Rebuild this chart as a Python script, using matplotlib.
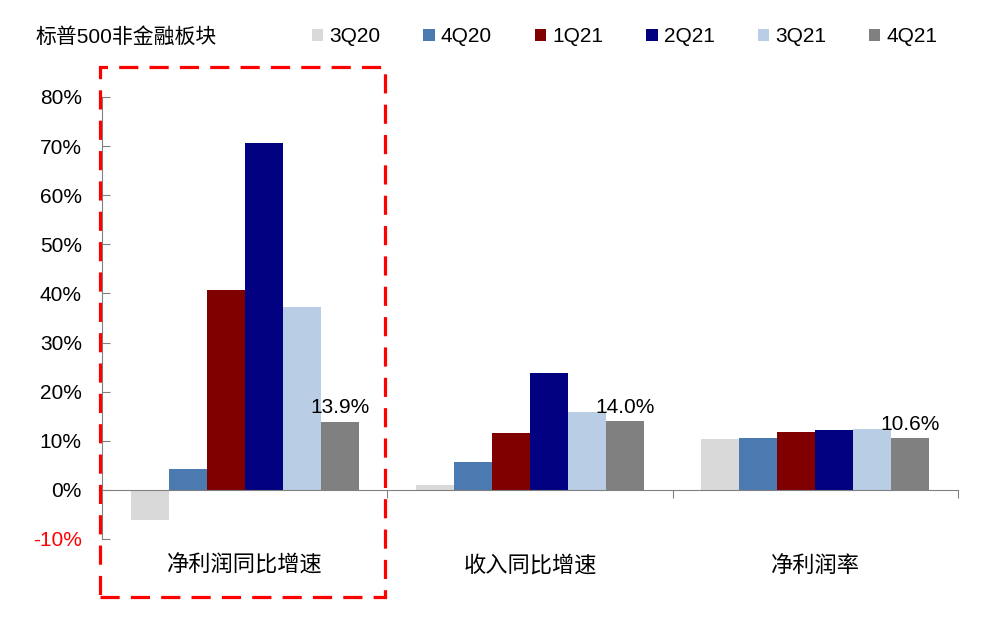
import matplotlib.pyplot as plt
import numpy as np
from matplotlib.patches import Rectangle
from matplotlib.transforms import blended_transform_factory

plt.rcParams['font.family'] = ['Liberation Sans', 'Noto Sans CJK SC', 'DejaVu Sans']

categories = ["净利润同比增速", "收入同比增速", "净利润率"]
quarters = ["3Q20", "4Q20", "1Q21", "2Q21", "3Q21", "4Q21"]
colors = ["#D9D9D9", "#4A7AB0", "#800000", "#000080", "#B9CDE5", "#808080"]
# one list per quarter: [净利润同比, 收入同比, 净利润率]
q3_20 = [-6.1, 1.0, 10.4]
q4_20 = [4.3, 5.7, 10.6]
q1_21 = [40.6, 11.6, 11.8]
q2_21 = [70.7, 23.8, 12.2]
q3_21 = [37.2, 15.9, 12.4]
q4_21 = [13.9, 14.0, 10.6]
series = [q3_20, q4_20, q1_21, q2_21, q3_21, q4_21]
yticks = [-10, 0, 10, 20, 30, 40, 50, 60, 70, 80]

fig = plt.figure(figsize=(9.87, 6.17), dpi=100)
ax = fig.add_axes([102/987, 1-539/617, 856/987, 442/617])

x = np.arange(len(categories))
w = 0.8 / len(quarters)
bars = []
for k, (vals, c, q) in enumerate(zip(series, colors, quarters)):
    b = ax.bar(x - 0.4 + w*(k+0.5), vals, w, color=c, label=q, zorder=2)
    bars.append(b)

# data labels on last quarter
for i, v in enumerate(q4_21):
    ax.annotate(f"{v:.1f}%", (x[i] - 0.4 + w*5.5, v), xytext=(0, 3),
                textcoords="offset points", ha="center", va="bottom", fontsize=15)

ax.set_xlim(-0.5, 2.5)
ax.set_ylim(-10, 80)
ax.set_yticks(yticks)
ax.set_yticklabels([f"{t}%" for t in yticks], fontsize=15)
ax.get_yticklabels()[0].set_color("#FF0000")
ax.tick_params(axis="y", direction="in", length=6, color="#808080", pad=14.5)
ax.set_xticks([0.5, 1.5, 2.5])
ax.set_xticklabels([])
ax.tick_params(axis="x", direction="out", length=6, color="#808080")

for s in ["top", "right"]:
    ax.spines[s].set_visible(False)
ax.spines["left"].set_color("#808080")
ax.spines["bottom"].set_color("#808080")
ax.spines["bottom"].set_position(("data", 0))
ax.spines["bottom"].set_zorder(3)

trans = blended_transform_factory(ax.transData, fig.transFigure)
for i, c in enumerate(categories):
    ax.text(x[i], 1-566/617, c, transform=trans, ha="center", va="center", fontsize=16)

fig.text(35/987, 1-37/617, "标普500非金融板块", ha="left", va="center", fontsize=15)
fig.legend(handles=[b[0] for b in bars], labels=quarters, ncol=6, loc="center left",
           bbox_to_anchor=(293/987, 1-37/617), frameon=False, fontsize=15,
           handlelength=0.55, handleheight=0.55, handletextpad=0.3, columnspacing=2.05)

fig.add_artist(Rectangle((100/987, 1-597/617), 285/987, 530/617, transform=fig.transFigure,
                         fill=False, edgecolor="#FF0000", lw=2.3, linestyle=(0, (6, 3.5))))

fig.savefig("out.png", dpi=100)
